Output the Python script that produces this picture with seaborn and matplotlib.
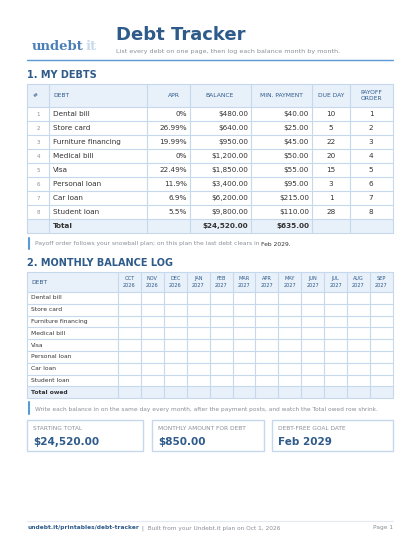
import matplotlib.pyplot as plt
import seaborn as sns
from matplotlib.patches import Rectangle

sns.set_style("white")
plt.rcParams['font.family'] = ['DejaVu Sans']

# data
debts = ['Dental bill', 'Store card', 'Furniture financing', 'Medical bill',
         'Visa', 'Personal loan', 'Car loan', 'Student loan']
aprs = ['0%', '26.99%', '19.99%', '0%', '22.49%', '11.9%', '6.9%', '5.5%']
balances = ['$480.00', '$640.00', '$950.00', '$1,200.00', '$1,850.00',
            '$3,400.00', '$6,200.00', '$9,800.00']
min_payments = ['$40.00', '$25.00', '$45.00', '$50.00', '$55.00',
                '$95.00', '$215.00', '$110.00']
due_days = [10, 5, 22, 20, 15, 3, 1, 28]
payoff_order = [1, 2, 3, 4, 5, 6, 7, 8]
months = ['OCT\n2026', 'NOV\n2026', 'DEC\n2026', 'JAN\n2027', 'FEB\n2027', 'MAR\n2027',
          'APR\n2027', 'MAY\n2027', 'JUN\n2027', 'JUL\n2027', 'AUG\n2027', 'SEP\n2027']
cards = [('STARTING TOTAL', '$24,520.00'), ('MONTHLY AMOUNT FOR DEBT', '$850.00'),
         ('DEBT-FREE GOAL DATE', 'Feb 2029')]

NAVY = '#2e5b8a'
HEAD = '#e8f0fa'
BORD = '#c5d8ec'
TXT = '#333333'
GREY = '#8a8f96'

fig = plt.figure(figsize=(4.2, 5.44), dpi=100)
ax = fig.add_axes([0, 0, 1, 1])
ax.set_xlim(0, 420)
ax.set_ylim(544, 0)
ax.axis('off')


def follow(prev, s, **kw):
    # place a text right after another one
    return ax.annotate(s, xy=(1, 0.5), xycoords=prev, xytext=(1, 0),
                       textcoords='offset points', va='center', ha='left', **kw)


# header
logo = ax.text(32, 47, 'undebt', fontsize=9.5, fontweight='bold', color='#4a7fb8',
               family='DejaVu Serif', va='center')
follow(logo, 'it', fontsize=9.5, fontweight='bold', color='#c8daee', family='DejaVu Serif')
ax.text(116, 35, 'Debt Tracker', fontsize=13, fontweight='bold', color=NAVY, va='center')
ax.text(116, 52, 'List every debt on one page, then log each balance month by month.',
        fontsize=4.6, color=GREY, va='center')
ax.plot([27, 393], [60, 60], color='#5b9bd5', lw=1)

# section 1
ax.text(27, 75, '1. MY DEBTS', fontsize=7, fontweight='bold', color=NAVY, va='center')
cols = [27, 49, 147, 190, 251, 312, 350, 393]
top, hb, rh = 84, 107, 14
rows_bottom = hb + rh * (len(debts) + 1)
ax.add_patch(Rectangle((27, top), 366, hb - top, fc=HEAD, ec='none'))
ax.add_patch(Rectangle((27, hb + rh * len(debts)), 366, rh, fc=HEAD, ec='none'))
for x in cols:
    ax.plot([x, x], [top, rows_bottom], color=BORD, lw=0.8)
for y in [top, hb] + [hb + rh * (i + 1) for i in range(len(debts) + 1)]:
    ax.plot([27, 393], [y, y], color=BORD, lw=0.8)
hy = (top + hb) / 2
hs = dict(fontsize=4.3, color=NAVY, va='center')
ax.text(33, hy, '#', ha='left', **hs)
ax.text(53, hy, 'DEBT', ha='left', **hs)
ax.text(174, hy, 'APR', ha='center', **hs)
ax.text(220, hy, 'BALANCE', ha='center', **hs)
ax.text(281, hy, 'MIN. PAYMENT', ha='center', **hs)
ax.text(331, hy, 'DUE DAY', ha='center', **hs)
ax.text(371, hy, 'PAYOFF\nORDER', ha='center', linespacing=1.5, **hs)
bs = dict(fontsize=5.2, color=TXT, va='center')
for i, name in enumerate(debts):
    y = hb + rh * i + rh / 2
    ax.text(38, y, str(i + 1), ha='center', fontsize=4, color=GREY, va='center')
    ax.text(53, y, name, ha='left', **bs)
    ax.text(187, y, aprs[i], ha='right', **bs)
    ax.text(248, y, balances[i], ha='right', **bs)
    ax.text(309, y, min_payments[i], ha='right', **bs)
    ax.text(331, y, str(due_days[i]), ha='center', **bs)
    ax.text(371, y, str(payoff_order[i]), ha='center', **bs)
ty = hb + rh * len(debts) + rh / 2
ax.text(53, ty, 'Total', ha='left', fontweight='bold', **bs)
ax.text(248, ty, '$24,520.00', ha='right', fontweight='bold', **bs)
ax.text(309, ty, '$635.00', ha='right', fontweight='bold', **bs)

ax.plot([28.5, 28.5], [238, 249], color='#5b9bd5', lw=1.5)
n1 = ax.text(35, 244, 'Payoff order follows your snowball plan; on this plan the last debt clears in',
             fontsize=4.3, color=GREY, va='center')
follow(n1, 'Feb 2029.', fontsize=4.3, color=TXT)

# section 2
ax.text(27, 263, '2. MONTHLY BALANCE LOG', fontsize=7, fontweight='bold', color=NAVY, va='center')
top2, hb2, rh2 = 272, 292, 11.8
cols2 = [27, 118] + [118 + 22.9 * (i + 1) for i in range(len(months))]
bottom2 = hb2 + rh2 * (len(debts) + 1)
ax.add_patch(Rectangle((27, top2), 366, hb2 - top2, fc=HEAD, ec='none'))
ax.add_patch(Rectangle((27, hb2 + rh2 * len(debts)), 366, rh2, fc=HEAD, ec='none'))
for x in cols2:
    ax.plot([x, x], [top2, bottom2], color=BORD, lw=0.8)
for y in [top2, hb2] + [hb2 + rh2 * (i + 1) for i in range(len(debts) + 1)]:
    ax.plot([27, 393], [y, y], color=BORD, lw=0.8)
ax.text(31, (top2 + hb2) / 2, 'DEBT', ha='left', **hs)
for i, m in enumerate(months):
    ax.text((cols2[i + 1] + cols2[i + 2]) / 2, (top2 + hb2) / 2, m, ha='center',
            fontsize=3.6, color=NAVY, va='center', linespacing=1.6)
for i, name in enumerate(debts + ['Total owed']):
    y = hb2 + rh2 * i + rh2 / 2
    ax.text(31, y, name, ha='left', fontsize=4.3, color=TXT, va='center',
            fontweight='bold' if name == 'Total owed' else 'normal')

ax.plot([28.5, 28.5], [402, 414], color='#5b9bd5', lw=1.5)
ax.text(35, 409, 'Write each balance in on the same day every month, after the payment posts, '
        'and watch the Total owed row shrink.', fontsize=4.2, color=GREY, va='center')

# cards
card_x = [(27, 143), (152, 264), (272, 393)]
for (x0, x1), (lab, val) in zip(card_x, cards):
    ax.add_patch(Rectangle((x0, 420), x1 - x0, 31, fc='white', ec=BORD, lw=1))
    ax.text(x0 + 6, 429, lab, fontsize=4.2, color=GREY, va='center')
    ax.text(x0 + 6, 442, val, fontsize=7.5, fontweight='bold', color=NAVY, va='center')

# footer
ax.plot([27, 393], [521, 521], color='#e3eaf3', lw=0.8)
f1 = ax.text(27, 528, 'undebt.it/printables/debt-tracker', fontsize=4.2, fontweight='bold',
             color=NAVY, va='center')
follow(f1, ' |  Built from your Undebt.it plan on Oct 1, 2026', fontsize=4.2, color=GREY)
ax.text(393, 528, 'Page 1', fontsize=4.2, color=GREY, va='center', ha='right')

plt.savefig('out.png', dpi=100)
